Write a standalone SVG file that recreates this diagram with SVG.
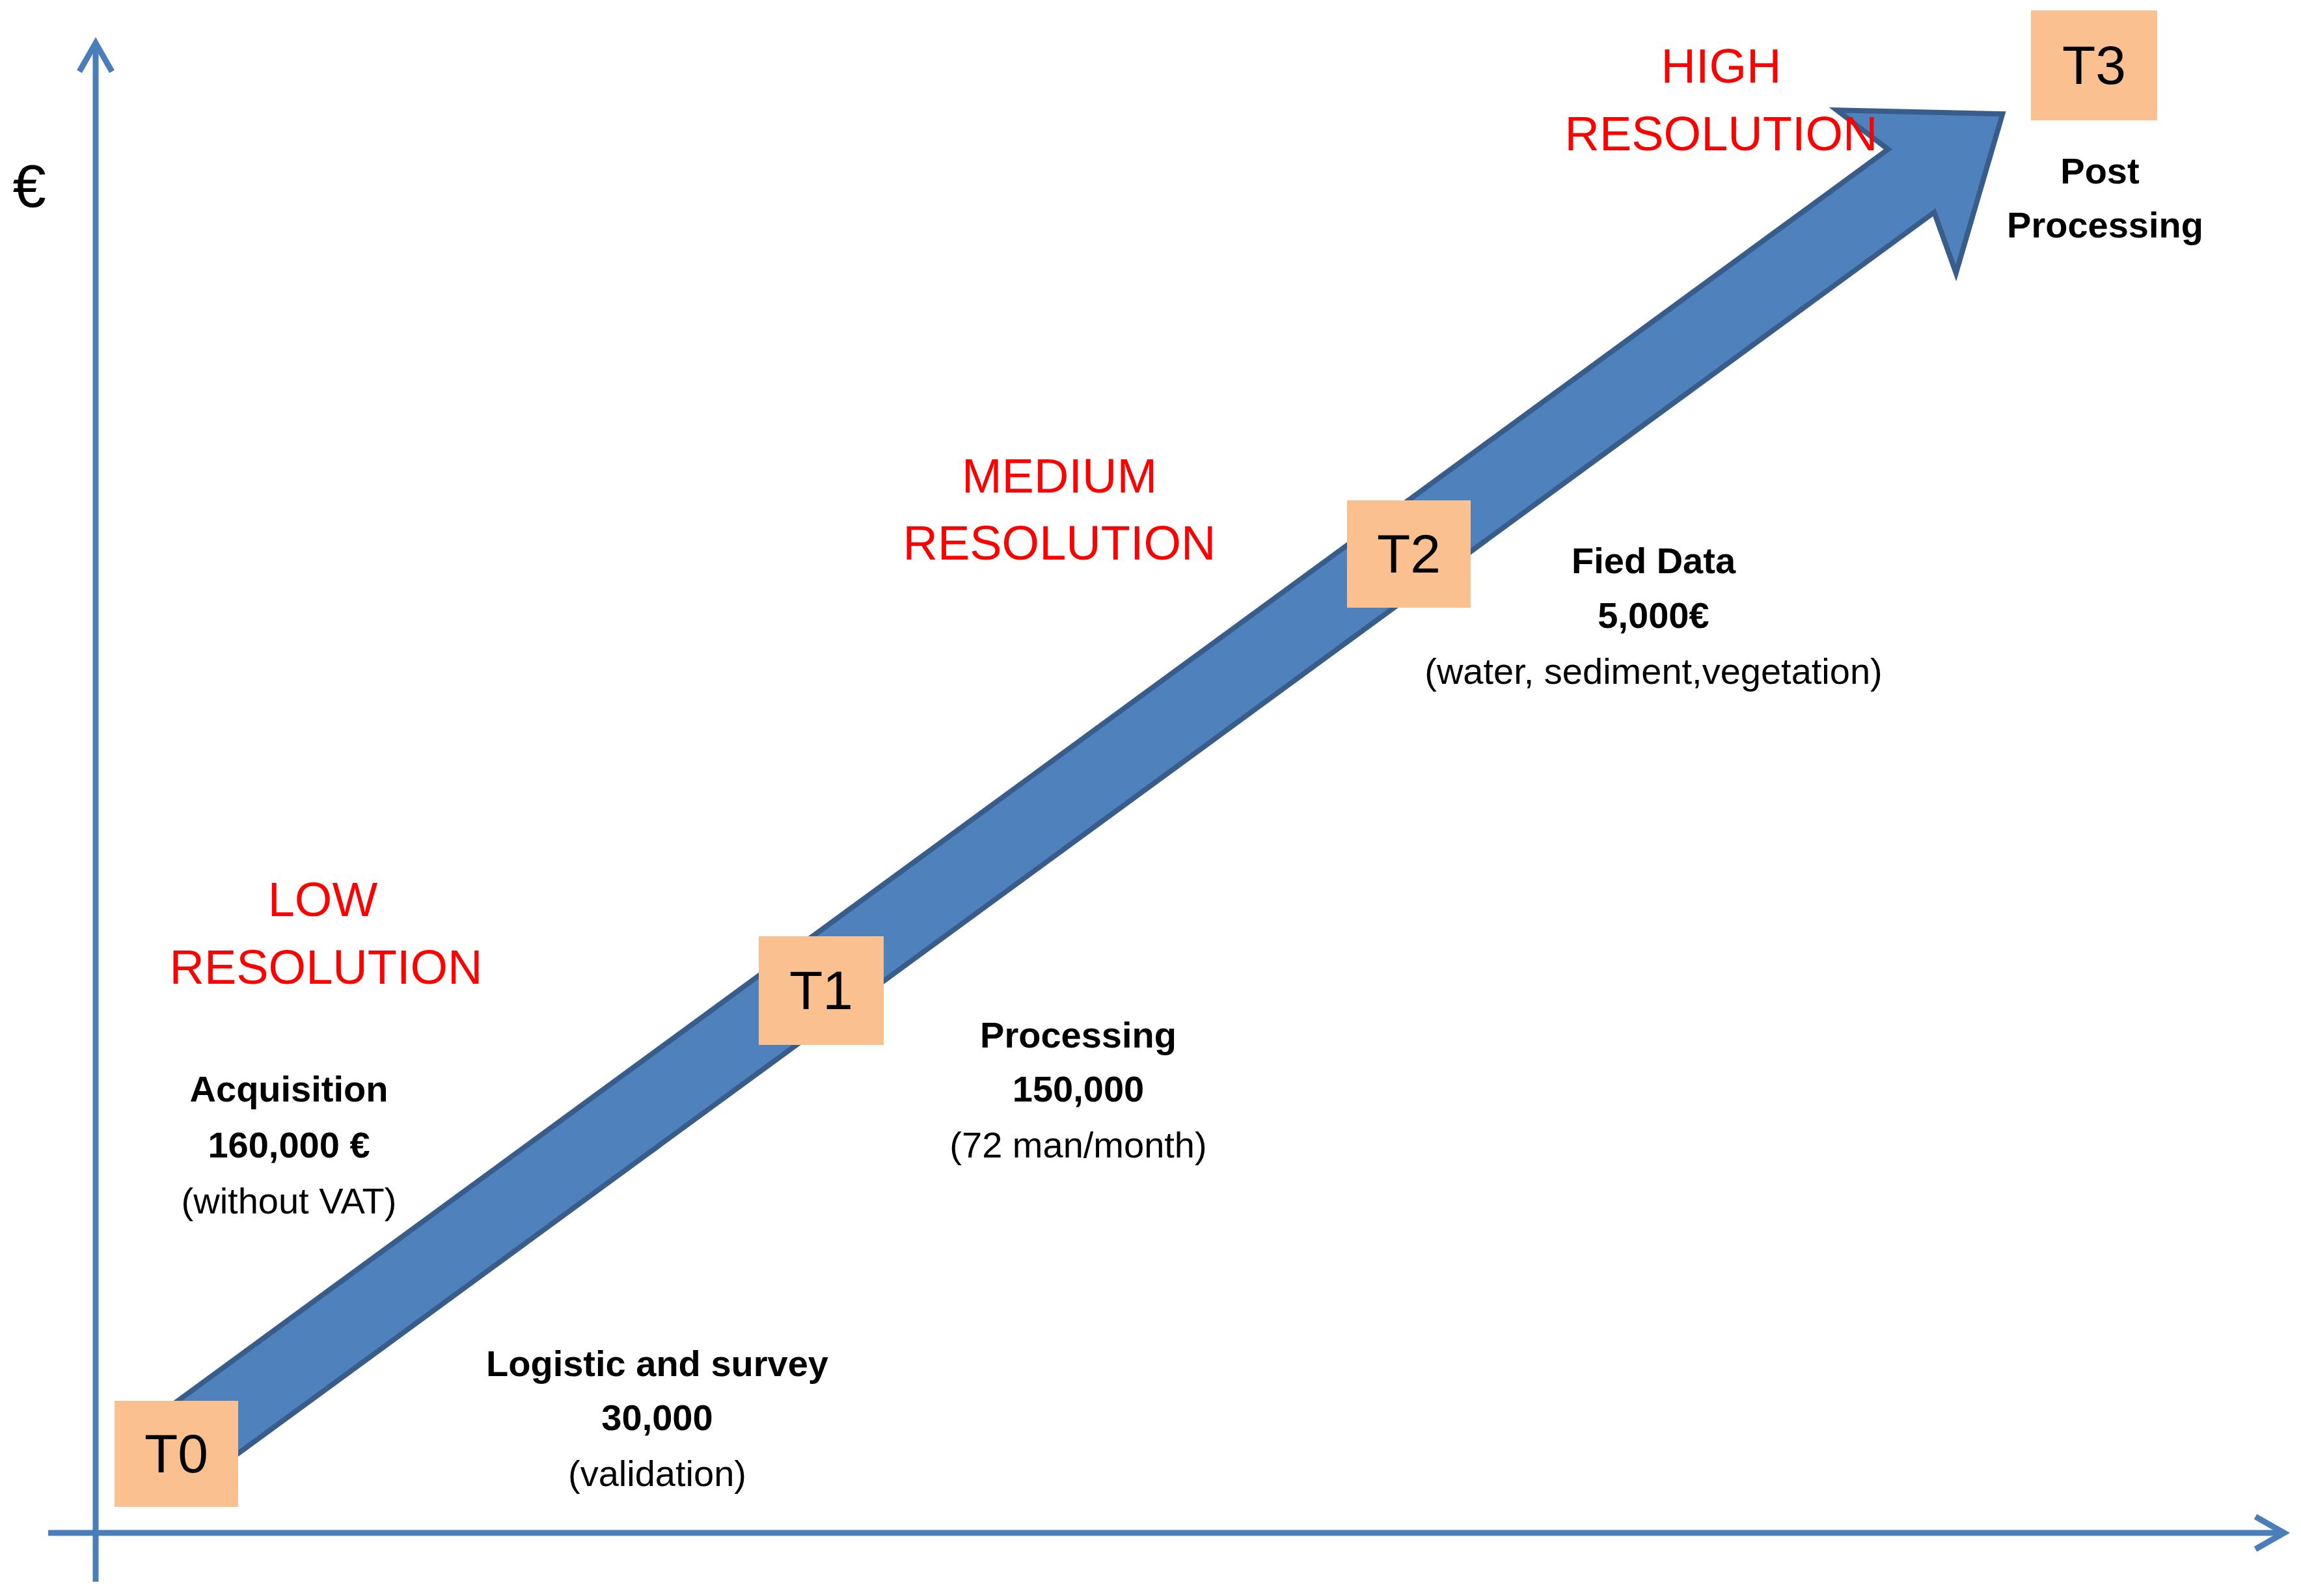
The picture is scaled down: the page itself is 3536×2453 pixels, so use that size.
<svg xmlns="http://www.w3.org/2000/svg" width="3536" height="2453" viewBox="0 0 3536 2453">
<style>
.ax{stroke:#4A7EBB;stroke-width:9;fill:none}
.box{fill:#FAC090}
.t{font-family:"Liberation Sans",Arial,sans-serif;text-anchor:middle}
.bt{font-size:84px}
.red{font-size:74px;fill:#FF0000}
.b{font-size:56px;font-weight:bold}
.n{font-size:56px}
</style>
<rect width="3536" height="2453" fill="#fff"/>
<g id="connectors">
<line class="ax" x1="147" y1="2431" x2="147" y2="66"/>
<polyline class="ax" points="122,110 147,66 172,110"/>
<line class="ax" x1="74" y1="2356" x2="3508" y2="2356"/>
<polyline class="ax" points="3466,2331 3510,2356 3466,2381"/>
<path transform="translate(282,2221) rotate(-36.2)" d="M0,-60 L3290,-60 L3262,-155 L3464,0 L3262,155 L3290,60 L0,60 Z" fill="#4F81BD" stroke="#385D8A" stroke-width="8"/>
</g>
<text class="t" x="45" y="318" font-size="92">€</text>
<g id="T0"><rect class="box" x="176" y="2153" width="190" height="163"/><text class="t bt" x="271" y="2263">T0</text></g>
<g id="T1"><rect class="box" x="1166" y="1439" width="192" height="167"/><text class="t bt" x="1262" y="1551">T1</text></g>
<g id="T2"><rect class="box" x="2070" y="769" width="190" height="165"/><text class="t bt" x="2165" y="880">T2</text></g>
<g id="T3"><rect class="box" x="3121" y="16" width="194" height="169"/><text class="t bt" x="3218" y="129">T3</text></g>
<g id="labels">
<text class="t red" x="496" y="1408">LOW</text>
<text class="t red" x="501" y="1512">RESOLUTION</text>
<text class="t red" x="1628" y="757">MEDIUM</text>
<text class="t red" x="1628" y="860">RESOLUTION</text>
<text class="t red" x="2645" y="127">HIGH</text>
<text class="t red" x="2645" y="231">RESOLUTION</text>
<text class="t b" x="444" y="1693">Acquisition</text>
<text class="t b" x="444" y="1779">160,000 €</text>
<text class="t n" x="444" y="1865">(without VAT)</text>
<text class="t b" x="1010" y="2115">Logistic and survey</text>
<text class="t b" x="1010" y="2198">30,000</text>
<text class="t n" x="1010" y="2284">(validation)</text>
<text class="t b" x="1657" y="1610">Processing</text>
<text class="t b" x="1657" y="1693">150,000</text>
<text class="t n" x="1657" y="1779">(72 man/month)</text>
<text class="t b" x="2541" y="881">Fied Data</text>
<text class="t b" x="2541" y="965">5,000€</text>
<text class="t n" x="2541" y="1051">(water, sediment,vegetation)</text>
<text class="t b" x="3227" y="282">Post</text>
<text class="t b" x="3235" y="365">Processing</text>
</g>
</svg>
